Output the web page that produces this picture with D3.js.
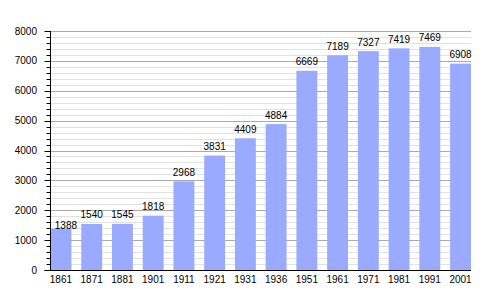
<!DOCTYPE html>
<html>
<head>
<meta charset="utf-8">
<script src="https://cdn.jsdelivr.net/npm/d3@7"></script>
<style>
  body { margin: 0; background: #fff; }
  text { font-family: "Liberation Sans", Arial, sans-serif; font-size: 10px; fill: #000; }
</style>
</head>
<body>
<svg id="chart" width="500" height="300"></svg>
<script>
// Daten
const years = ["1861", "1871", "1881", "1901", "1911", "1921", "1931", "1936", "1951", "1961", "1971", "1981", "1991", "2001"];
const population = [1388, 1540, 1545, 1818, 2968, 3831, 4409, 4884, 6669, 7189, 7327, 7419, 7469, 6908];
const yTicks = [0, 1000, 2000, 3000, 4000, 5000, 6000, 7000, 8000];

const svg = d3.select("#chart");
const plotL = 50.5, plotR = 471, plotT = 31, plotB = 270;

const x = d3.scaleBand()
  .domain(years)
  .range([plotL, plotR])
  .paddingInner(0.32)
  .paddingOuter(0);

const y = d3.scaleLinear().domain([0, 8000]).range([plotB, plotT]);

// Gitter: feine Linien alle 200
const minor = d3.range(0, 8001, 200).filter(v => v % 1000 !== 0);
svg.append("g")
  .selectAll("line")
  .data(minor)
  .join("line")
  .attr("x1", plotL).attr("x2", plotR)
  .attr("y1", d => Math.round(y(d)) + 0.5)
  .attr("y2", d => Math.round(y(d)) + 0.5)
  .attr("stroke", "#e2e2e2");

svg.append("g")
  .selectAll("line")
  .data(yTicks.filter(v => v > 0))
  .join("line")
  .attr("x1", plotL).attr("x2", plotR)
  .attr("y1", d => Math.round(y(d)) + 0.5)
  .attr("y2", d => Math.round(y(d)) + 0.5)
  .attr("stroke", "#aaaaaa");

// Balken
svg.append("g")
  .selectAll("rect")
  .data(population)
  .join("rect")
  .attr("x", (d, i) => x(years[i]))
  .attr("y", d => y(d))
  .attr("width", x.bandwidth())
  .attr("height", d => plotB - y(d))
  .attr("fill", "#99aaff");

// Werte ueber den Balken (erster Wert liegt im Original tiefer und rechts)
svg.append("g")
  .selectAll("text")
  .data(population)
  .join("text")
  .attr("x", (d, i) => x(years[i]) + x.bandwidth() / 2 + (i === 0 ? 5 : 0))
  .attr("y", (d, i) => y(d) - (i === 0 ? -0.5 : 5.5))
  .attr("text-anchor", "middle")
  .text(d => d);

// Y-Achse mit kleinen Ticks
const yAxis = svg.append("g");
yAxis.selectAll("line.minor")
  .data(minor)
  .join("line")
  .attr("class", "minor")
  .attr("x1", plotL - 4).attr("x2", plotL)
  .attr("y1", d => Math.round(y(d)) + 0.5)
  .attr("y2", d => Math.round(y(d)) + 0.5)
  .attr("stroke", "#000");
yAxis.selectAll("line.major")
  .data(yTicks)
  .join("line")
  .attr("class", "major")
  .attr("x1", plotL - 6).attr("x2", plotL)
  .attr("y1", d => Math.round(y(d)) + 0.5)
  .attr("y2", d => Math.round(y(d)) + 0.5)
  .attr("stroke", "#000");
yAxis.selectAll("text")
  .data(yTicks)
  .join("text")
  .attr("x", 37)
  .attr("y", d => y(d))
  .attr("dy", "0.35em")
  .attr("text-anchor", "end")
  .text(d => d);
yAxis.append("line")
  .attr("x1", plotL).attr("x2", plotL)
  .attr("y1", plotT).attr("y2", plotB + 0.5)
  .attr("stroke", "#000");

// X-Achse
svg.append("line")
  .attr("x1", plotL - 6).attr("x2", plotR)
  .attr("y1", plotB + 0.5).attr("y2", plotB + 0.5)
  .attr("stroke", "#000");
svg.append("g")
  .selectAll("text")
  .data(years)
  .join("text")
  .attr("x", d => x(d) + x.bandwidth() / 2)
  .attr("y", 282.5)
  .attr("text-anchor", "middle")
  .text(d => d);
</script>
</body>
</html>
